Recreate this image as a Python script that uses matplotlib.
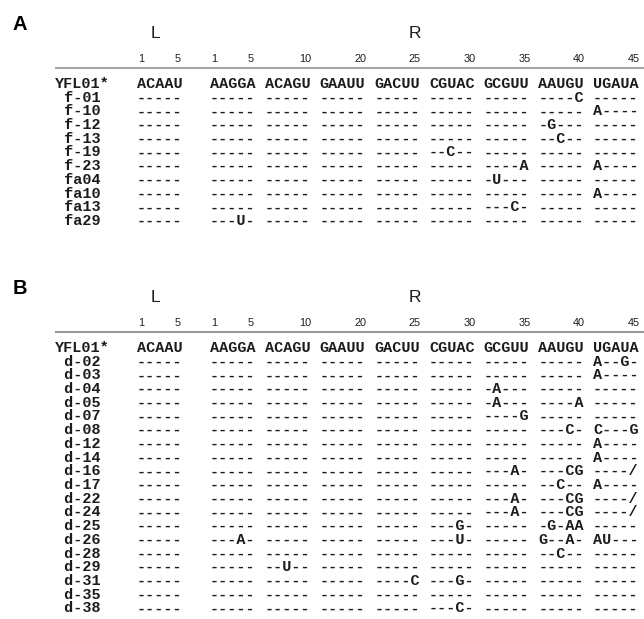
import matplotlib.pyplot as plt

# reference sequence (L segment, then the R segment in blocks of five)
ref_name = "YFL01*"
ref_blocks = ["ACAAU", "AAGGA", "ACAGU", "GAAUU", "GACUU", "CGUAC", "GCGUU", "AAUGU", "UGAUA"]

# numbering above the alignment
l_tick_labels = ["1", "5"]
l_tick_pos = [0, 4]
r_tick_labels = ["1", "5", "10", "20", "25", "30", "35", "40", "45"]
r_tick_pos = [0, 4, 9, 14, 19, 24, 29, 34, 39]

# panel A clones
names_a = ["f-01", "f-10", "f-12", "f-13", "f-19", "f-23", "fa04", "fa10", "fa13", "fa29"]
rows_a = [
    "----- ----- ----- ----- ----- ----- ----- ----C -----",
    "----- ----- ----- ----- ----- ----- ----- ----- A----",
    "----- ----- ----- ----- ----- ----- ----- -G--- -----",
    "----- ----- ----- ----- ----- ----- ----- --C-- -----",
    "----- ----- ----- ----- ----- --C-- ----- ----- -----",
    "----- ----- ----- ----- ----- ----- ----A ----- A----",
    "----- ----- ----- ----- ----- ----- -U--- ----- -----",
    "----- ----- ----- ----- ----- ----- ----- ----- A----",
    "----- ----- ----- ----- ----- ----- ---C- ----- -----",
    "----- ---U- ----- ----- ----- ----- ----- ----- -----",
]

# panel B clones
names_b = ["d-02", "d-03", "d-04", "d-05", "d-07", "d-08", "d-12", "d-14", "d-16",
           "d-17", "d-22", "d-24", "d-25", "d-26", "d-28", "d-29", "d-31", "d-35", "d-38"]
rows_b = [
    "----- ----- ----- ----- ----- ----- ----- ----- A--G-",
    "----- ----- ----- ----- ----- ----- ----- ----- A----",
    "----- ----- ----- ----- ----- ----- -A--- ----- -----",
    "----- ----- ----- ----- ----- ----- -A--- ----A -----",
    "----- ----- ----- ----- ----- ----- ----G ----- -----",
    "----- ----- ----- ----- ----- ----- ----- ---C- C---G",
    "----- ----- ----- ----- ----- ----- ----- ----- A----",
    "----- ----- ----- ----- ----- ----- ----- ----- A----",
    "----- ----- ----- ----- ----- ----- ---A- ---CG ----/",
    "----- ----- ----- ----- ----- ----- ----- --C-- A----",
    "----- ----- ----- ----- ----- ----- ---A- ---CG ----/",
    "----- ----- ----- ----- ----- ----- ---A- ---CG ----/",
    "----- ----- ----- ----- ----- ---G- ----- -G-AA -----",
    "----- ---A- ----- ----- ----- ---U- ----- G--A- AU---",
    "----- ----- ----- ----- ----- ----- ----- --C-- -----",
    "----- ----- --U-- ----- ----- ----- ----- ----- -----",
    "----- ----- ----- ----- ----C ---G- ----- ----- -----",
    "----- ----- ----- ----- ----- ----- ----- ----- -----",
    "----- ----- ----- ----- ----- ---C- ----- ----- -----",
]

CW = 9.12          # pixel width of one monospace column
X0 = 55            # pixel position of column 0
ROW = 13.7
L_COL = 9
R_COL = 17
MONO = "Liberation Mono"
SANS = "Liberation Sans"
INK = "#1c1c1c"


def r_col(i):
    # column of the i-th R nucleotide (blocks separated by one space)
    return R_COL + i + i // 5


def block_col(b):
    return L_COL if b == 0 else R_COL + 6 * (b - 1)


def draw_panel(ax, top, letter, names, rows, line_color, line_w):
    ax.text(-3.9, top - 59, letter, fontsize=14.5, fontweight="bold",
            family=SANS, ha="center", va="center", color="black")
    ax.text(L_COL + 2, top - 51, "L", fontsize=12.5, family=SANS,
            ha="center", va="center", color=INK)
    ax.text(r_col(19.5), top - 51, "R", fontsize=12.5, family=SANS,
            ha="center", va="center", color=INK)
    for lab, p in zip(l_tick_labels, l_tick_pos):
        ax.text(L_COL + p + 0.5, top - 25, lab, fontsize=7.8, family=SANS,
                ha="center", va="center", color=INK)
    for lab, p in zip(r_tick_labels, r_tick_pos):
        ax.text(r_col(p) + 0.45, top - 25, lab, fontsize=7.8, family=SANS,
                ha="center", va="center", color=INK)
    ax.plot([0, 80], [top - 16, top - 16], color=line_color, lw=line_w,
            solid_capstyle="butt")

    all_names = [ref_name] + [" " + n for n in names]
    all_rows = [" ".join(ref_blocks)] + rows
    for i, (name, row) in enumerate(zip(all_names, all_rows)):
        y = top + i * ROW
        ax.text(0, y, name, fontsize=10.9, family=MONO, fontweight="bold",
                ha="left", va="center", color=INK)
        for b, blk in enumerate(row.split(" ")):
            ax.text(block_col(b), y, blk, fontsize=10.9, family=MONO,
                    fontweight="bold", ha="left", va="center", color=INK)


fig = plt.figure(figsize=(6.44, 6.19), dpi=100)
ax = fig.add_axes([0, 0, 1, 1])
ax.set_xlim(-X0 / CW, (644 - X0) / CW)
ax.set_ylim(619, 0)
ax.axis("off")

draw_panel(ax, 84, "A", names_a, rows_a, "#a6a6a6", 1.5)
draw_panel(ax, 348, "B", names_b, rows_b, "#7a7a7a", 1.1)

plt.savefig("out.png", dpi=100)
plt.close()
